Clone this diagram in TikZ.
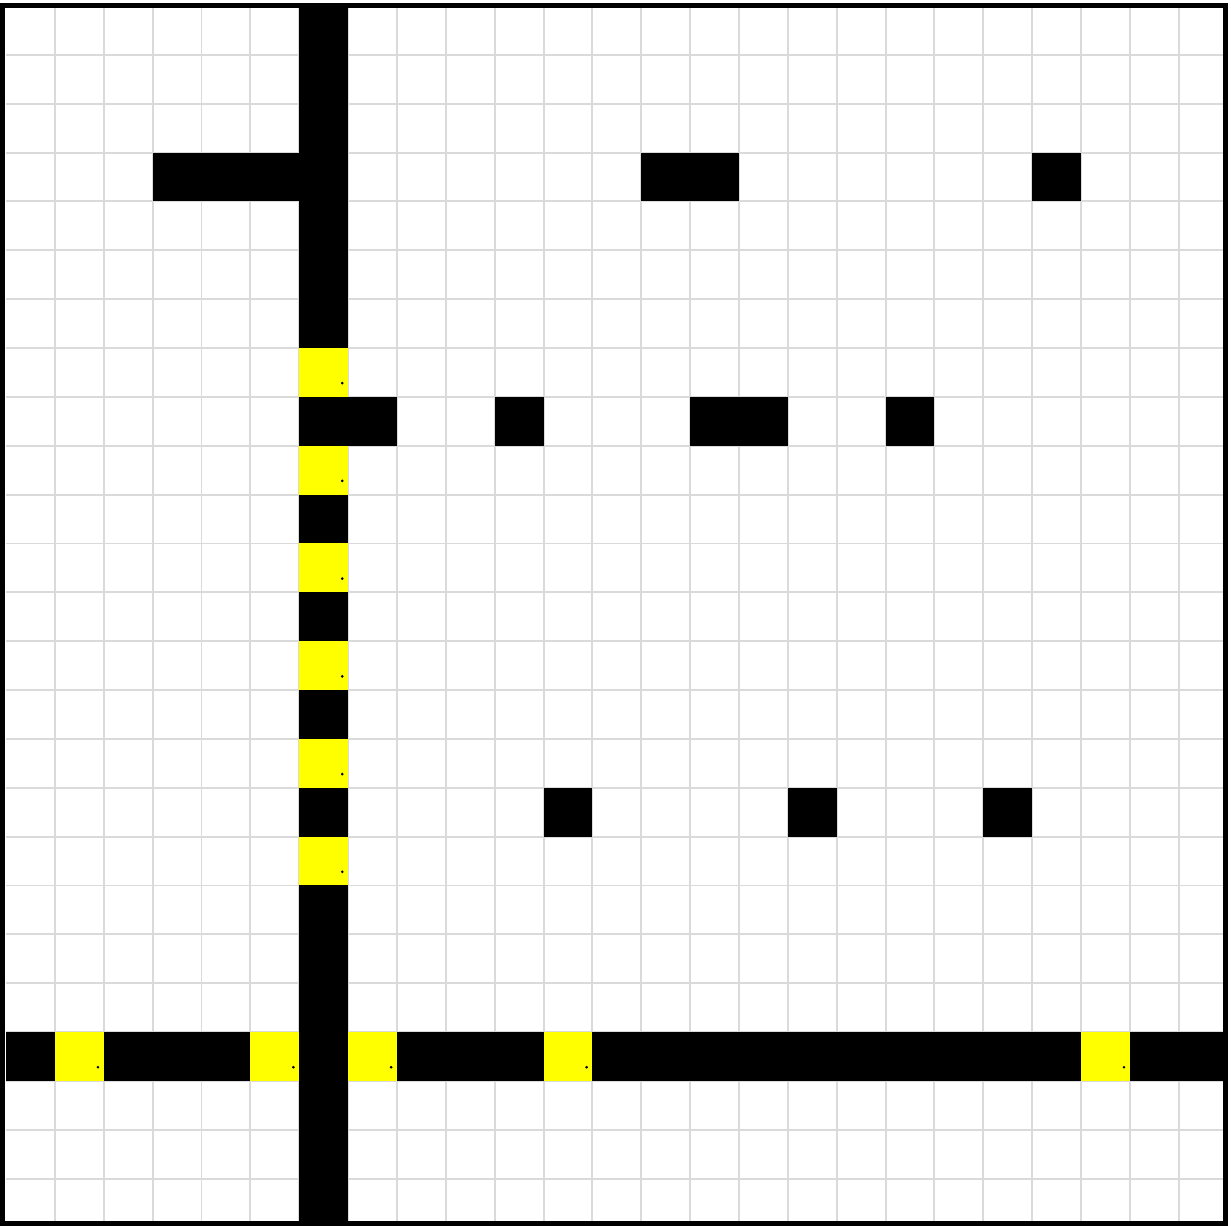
\documentclass[tikz,border=0pt]{standalone}
\usepackage{tikz}
\definecolor{cGrid}{RGB}{218,218,218}
\definecolor{cYel}{RGB}{255,255,0}

\begin{document}
\begin{tikzpicture}[
            wall/.style={fill=black},
            gate/.style={fill=cYel},
            gl/.style={draw=cGrid, line width=1.1pt},
            frm/.style={draw=black, line width=0.1cm}]
            \useasboundingbox (-0.125,0.123) rectangle (25.07,-24.96);
            \fill[white] (-0.125,0.123) rectangle (25.07,-24.96);
            % grid
            \foreach \i in {1,...,24} {
                \draw[gl] (\i,0) -- (\i,-24.92);
                \draw[gl] (0,-\i) -- (24.95,-\i);
            }
            % walls (col, -row)
            \fill[wall] (6,0) rectangle (7,-24.92);
            \fill[wall] (0,-21) rectangle (24.95,-22);
            \fill[wall] (3,-3) rectangle (6,-4);
            \fill[wall] (13,-3) rectangle (15,-4);
            \fill[wall] (21,-3) rectangle (22,-4);
            \fill[wall] (7,-8) rectangle (8,-9);
            \fill[wall] (10,-8) rectangle (11,-9);
            \fill[wall] (14,-8) rectangle (16,-9);
            \fill[wall] (18,-8) rectangle (19,-9);
            \foreach \c in {11,16,20}
                \fill[wall] (\c,-16) rectangle ++(1,-1);
            % gates
            \foreach \c/\r in {6/7,6/9,6/11,6/13,6/15,6/17,1/21,5/21,7/21,11/21,22/21} {
                \fill[gate] (\c,-\r) rectangle ++(1,-1);
                \fill[black] (\c+0.88,-\r-0.72) circle (0.03);
            }
            % frame
            \draw[frm] (-0.07,0.01) rectangle (24.96,-24.92);
        \end{tikzpicture}
\end{document}
